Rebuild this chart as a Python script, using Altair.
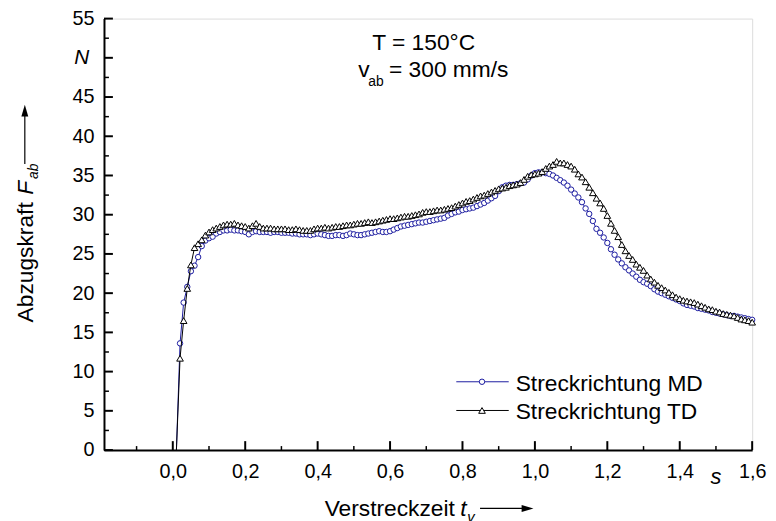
import altair as alt
import pandas as pd

FONT = "Liberation Sans"
BLUE = "#1c1ca0"
BLACK = "#000000"

series_names = ["Streckrichtung MD", "Streckrichtung TD"]

time_s = [
    0.01, 0.02, 0.03, 0.04, 0.05, 0.06, 0.07, 0.08, 0.09, 0.10,
    0.11, 0.12, 0.13, 0.14, 0.15, 0.16, 0.17, 0.18, 0.19, 0.20,
    0.21, 0.22, 0.23, 0.24, 0.25, 0.26, 0.27, 0.28, 0.29, 0.30,
    0.31, 0.32, 0.33, 0.34, 0.35, 0.36, 0.37, 0.38, 0.39, 0.40,
    0.41, 0.42, 0.43, 0.44, 0.45, 0.46, 0.47, 0.48, 0.49, 0.50,
    0.51, 0.52, 0.53, 0.54, 0.55, 0.56, 0.57, 0.58, 0.59, 0.60,
    0.61, 0.62, 0.63, 0.64, 0.65, 0.66, 0.67, 0.68, 0.69, 0.70,
    0.71, 0.72, 0.73, 0.74, 0.75, 0.76, 0.77, 0.78, 0.79, 0.80,
    0.81, 0.82, 0.83, 0.84, 0.85, 0.86, 0.87, 0.88, 0.89, 0.90,
    0.91, 0.92, 0.93, 0.94, 0.95, 0.96, 0.97, 0.98, 0.99, 1.00,
    1.01, 1.02, 1.03, 1.04, 1.05, 1.06, 1.07, 1.08, 1.09, 1.10,
    1.11, 1.12, 1.13, 1.14, 1.15, 1.16, 1.17, 1.18, 1.19, 1.20,
    1.21, 1.22, 1.23, 1.24, 1.25, 1.26, 1.27, 1.28, 1.29, 1.30,
    1.31, 1.32, 1.33, 1.34, 1.35, 1.36, 1.37, 1.38, 1.39, 1.40,
    1.41, 1.42, 1.43, 1.44, 1.45, 1.46, 1.47, 1.48, 1.49, 1.50,
    1.51, 1.52, 1.53, 1.54, 1.55, 1.56, 1.57, 1.58, 1.59, 1.60,
]

force_md = [
    0.0, 13.6, 18.8, 20.8, 22.8, 23.5, 24.6, 26.0, 26.7, 27.0,
    27.2, 27.6, 27.8, 28.0, 28.0, 28.1, 28.0, 28.0, 27.9, 27.8,
    27.5, 27.8, 27.9, 27.8, 27.8, 27.8, 27.7, 27.8, 27.8, 27.7,
    27.7, 27.7, 27.6, 27.6, 27.5, 27.5, 27.5, 27.4, 27.5, 27.6,
    27.5, 27.4, 27.3, 27.3, 27.4, 27.4, 27.3, 27.4, 27.6, 27.5,
    27.4, 27.4, 27.5, 27.6, 27.7, 27.8, 27.9, 27.8, 27.8, 27.9,
    28.1, 28.3, 28.5, 28.6, 28.7, 28.8, 28.9, 29.0, 29.0, 29.1,
    29.2, 29.3, 29.4, 29.5, 29.6, 29.9, 30.1, 30.3, 30.4, 30.6,
    30.7, 30.8, 30.9, 31.1, 31.3, 31.5, 31.8, 32.1, 32.4, 33.0,
    33.5, 33.7, 33.8, 33.8, 33.9, 34.0, 34.1, 34.5, 35.0, 35.3,
    35.4, 35.4, 35.3, 35.2, 35.0, 34.7, 34.4, 34.1, 33.7, 33.2,
    32.7, 32.2, 31.6, 30.8, 30.1, 29.2, 28.2, 27.7, 27.1, 26.4,
    25.6, 24.9, 24.3, 23.8, 23.3, 22.9, 22.5, 22.1, 21.7, 21.4,
    21.2, 20.9, 20.5, 20.2, 20.0, 19.8, 19.6, 19.4, 19.2, 19.0,
    18.7, 18.5, 18.4, 18.3, 18.1, 18.0, 17.9, 17.8, 17.6, 17.5,
    17.4, 17.3, 17.2, 17.1, 17.1, 17.0, 16.9, 16.8, 16.7, 16.6,
]

force_td = [
    0.0, 11.7, 16.5, 20.6, 23.6, 25.8, 26.3, 26.8, 27.4, 27.8,
    28.1, 28.3, 28.5, 28.7, 28.8, 28.8, 28.9, 28.7, 28.6, 28.5,
    28.3, 28.6, 28.9, 28.5, 28.3, 28.3, 28.3, 28.2, 28.2, 28.2,
    28.2, 28.1, 28.1, 28.2, 28.1, 28.0, 28.0, 28.0, 28.2, 28.3,
    28.3, 28.4, 28.3, 28.4, 28.5, 28.5, 28.6, 28.7, 28.7, 28.8,
    28.9, 28.9, 29.0, 29.1, 29.0, 29.1, 29.2, 29.3, 29.4, 29.5,
    29.5, 29.6, 29.7, 29.8, 29.8, 29.9, 30.0, 30.1, 30.3, 30.4,
    30.4, 30.5, 30.6, 30.6, 30.7, 30.8, 30.9, 31.1, 31.3, 31.5,
    31.7, 31.8, 32.0, 32.2, 32.4, 32.5, 32.7, 32.9, 33.1, 33.3,
    33.4, 33.5, 33.7, 33.8, 33.9, 34.1, 34.5, 34.9, 35.1, 35.2,
    35.3, 35.5, 35.9, 36.2, 36.4, 36.8, 36.6, 36.6, 36.4, 36.2,
    35.8, 35.2, 34.8, 34.2, 33.5, 32.8, 32.1, 31.5, 30.8, 29.9,
    28.9, 28.0, 27.2, 26.2, 25.4, 24.8, 24.3, 23.7, 23.3, 22.9,
    22.3, 21.8, 21.4, 21.0, 20.7, 20.4, 20.1, 19.8, 19.5, 19.3,
    19.1, 19.0, 18.9, 18.8, 18.6, 18.4, 18.2, 18.0, 17.9, 17.7,
    17.6, 17.4, 17.3, 17.2, 17.1, 16.9, 16.7, 16.6, 16.5, 16.3,
]

x_major = [0.0, 0.2, 0.4, 0.6, 0.8, 1.0, 1.2, 1.4, 1.6]
x_minor = [-0.1, 0.1, 0.3, 0.5, 0.7, 0.9, 1.1, 1.3, 1.5]
y_major = [0, 5, 10, 15, 20, 25, 30, 35, 40, 45, 50, 55]
y_minor = [2.5, 7.5, 12.5, 17.5, 22.5, 27.5, 32.5, 37.5, 42.5, 47.5, 52.5]
y_labels = [0, 5, 10, 15, 20, 25, 30, 35, 40, 45, 55]

W, H = 655, 436

df_md = pd.DataFrame({"t": time_s, "F": force_md, "serie": series_names[0]})
df_td = pd.DataFrame({"t": time_s, "F": force_td, "serie": series_names[1]})

xs = alt.Scale(domain=[-0.19, 1.6], nice=False, zero=False)
ys = alt.Scale(domain=[0, 55], nice=False, zero=True)

x_axis = alt.Axis(
    values=x_major, labelExpr="replace(format(datum.value, '.1f'), '.', ',')",
    ticks=False, tickSize=0, grid=False, labelFont=FONT, labelFontSize=20,
    labelColor="black", labelPadding=12, domainColor="black", domainWidth=2,
    labelFlush=False, labelOverlap=False, title=None,
)
y_axis = alt.Axis(
    values=y_labels, ticks=False, tickSize=0, grid=False, labelFont=FONT,
    labelFontSize=20, labelColor="black", labelPadding=10, domainColor="black",
    domainWidth=2, labelFlush=False, labelOverlap=False, title=None,
)


def series_layers(df, color, shape, size):
    line = alt.Chart(df).mark_line(color=color, strokeWidth=1).encode(
        x=alt.X("t:Q", scale=xs, axis=x_axis),
        y=alt.Y("F:Q", scale=ys, axis=y_axis),
    )
    pts = alt.Chart(df).transform_filter("datum.F > 0").mark_point(
        shape=shape, size=size, filled=True, fill="white", stroke=color,
        strokeWidth=1, opacity=1,
    ).encode(x="t:Q", y="F:Q")
    return [line, pts]


ticks_y_major = alt.Chart(pd.DataFrame({"v": y_major})).mark_rule(
    color="black", strokeWidth=2).encode(
    y=alt.Y("v:Q", scale=ys), x=alt.value(0), x2=alt.value(9))
ticks_y_minor = alt.Chart(pd.DataFrame({"v": y_minor})).mark_rule(
    color="black", strokeWidth=1.5).encode(
    y=alt.Y("v:Q", scale=ys), x=alt.value(0), x2=alt.value(5))
ticks_x_major = alt.Chart(pd.DataFrame({"v": x_major})).mark_rule(
    color="black", strokeWidth=2).encode(
    x=alt.X("v:Q", scale=xs), y=alt.value(H), y2=alt.value(H - 9))
ticks_x_minor = alt.Chart(pd.DataFrame({"v": x_minor})).mark_rule(
    color="black", strokeWidth=1.5).encode(
    x=alt.X("v:Q", scale=xs), y=alt.value(H), y2=alt.value(H - 4))

anchor = pd.DataFrame({"k": [0]})


def label(text, x, y, size=23, style="normal", align="left", angle=0,
          baseline="alphabetic"):
    return alt.Chart(anchor).mark_text(
        text=text, font=FONT, fontSize=size, fontStyle=style, align=align,
        baseline=baseline, angle=angle, color="black",
    ).encode(x=alt.value(x), y=alt.value(y))


unit_N = alt.Chart(anchor).mark_text(
    text="N", font=FONT, fontSize=21, fontStyle="italic", align="right",
    baseline="middle", color="black").encode(
    x=alt.value(-15), y=alt.Y(datum=50, scale=ys))
unit_s = alt.Chart(anchor).mark_text(
    text="s", font=FONT, fontSize=22, fontStyle="italic", align="center",
    baseline="alphabetic", color="black").encode(
    x=alt.X(datum=1.5, scale=xs), y=alt.value(H + 34))

# annotations
ann = [
    label("T = 150°C", 323, 32, align="center"),
    label("v", 257, 59),
    label("ab", 267, 68, size=14),
    label("= 300 mm/s", 288, 59),
]

# legend (drawn manually)
leg = []
for i, (name, color, shape, size) in enumerate(
        [(series_names[0], BLUE, "circle", 30),
         (series_names[1], BLACK, "triangle-up", 45)]):
    yy = 367 + 29 * i
    leg.append(alt.Chart(anchor).mark_rule(color=color, strokeWidth=1).encode(
        x=alt.value(356), x2=alt.value(409), y=alt.value(yy)))
    leg.append(alt.Chart(anchor).mark_point(
        shape=shape, size=size, filled=True, fill="white", stroke=color,
        strokeWidth=1, opacity=1).encode(x=alt.value(382), y=alt.value(yy)))
    leg.append(label(name, 416, yy + 9, size=23))

# axis titles
xt_y = 503
x_title = [
    label("Verstreckzeit", 223, xt_y),
    label("t", 360, xt_y, style="italic"),
    label("v", 367, xt_y + 6, size=15, style="italic"),
    alt.Chart(anchor).mark_rule(color="black", strokeWidth=1.2).encode(
        x=alt.value(380), x2=alt.value(428), y=alt.value(xt_y - 8)),
    alt.Chart(anchor).mark_point(
        shape="M1,0L-1,0.58L-1,-0.58Z", size=144, filled=True, color="black",
        opacity=1).encode(x=alt.value(428), y=alt.value(xt_y - 8)),
]
yt_x = -72
y_title = [
    label("Abzugskraft", yt_x, 307, angle=270),
    label("F", yt_x, 178, angle=270, style="italic"),
    label("ab", yt_x + 5, 162, size=14, angle=270, style="italic"),
    alt.Chart(anchor).mark_rule(color="black", strokeWidth=1.2).encode(
        x=alt.value(yt_x - 8), y=alt.value(147), y2=alt.value(96)),
    alt.Chart(anchor).mark_point(
        shape="M0,-1L0.58,1L-0.58,1Z", size=144, filled=True, color="black",
        opacity=1).encode(x=alt.value(yt_x - 8), y=alt.value(93)),
]

layers = (series_layers(df_md, BLUE, "circle", 30)
          + series_layers(df_td, BLACK, "triangle-up", 45)
          + [ticks_y_major, ticks_y_minor, ticks_x_major, ticks_x_minor,
             unit_N, unit_s] + ann + leg + x_title + y_title)

chart = alt.layer(*layers).properties(
    width=W, height=H,
    padding={"left": 97, "top": 8, "right": 16, "bottom": 70},
    autosize=alt.AutoSizeParams(type="none"),
).configure_view(stroke="#808080", strokeWidth=1.5).configure(
    background="white")

chart.save("out.html", embed_options={"renderer": "svg", "actions": False})
